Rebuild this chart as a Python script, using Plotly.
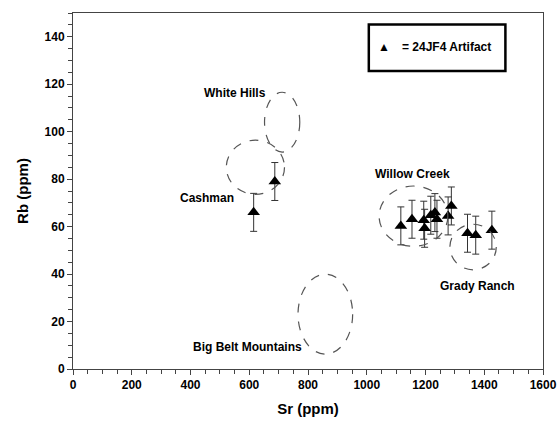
import plotly.graph_objects as go

# Artifact measurements (24JF4)
sr_ppm = [615, 687, 1116, 1154, 1194, 1197, 1218, 1232, 1239, 1277, 1288, 1343, 1371, 1426]
rb_ppm = [66, 79, 60.3, 63.1, 62.7, 59.3, 64.8, 65.9, 63.1, 64.5, 68.7, 57.2, 56.4, 58.5]
rb_err = [8, 8, 8, 8, 8, 8, 8, 8, 8, 8, 8, 8, 8, 8]

# Source regions (ellipses): name, Sr centre, Rb centre, Sr half-width, Rb half-height
region_names = ["White Hills", "Cashman", "Big Belt Mountains", "Willow Creek", "Grady Ranch"]
region_sr = [712, 621, 859, 1159, 1362]
region_rb = [104, 85, 23.1, 64.4, 51.4]
region_sr_half = [60, 99, 93, 117, 79]
region_rb_half = [12.6, 11.4, 16.8, 12.7, 9.6]

# label anchors for region names
label_sr = [550, 456, 593, 1156, 1378]
label_rb = [116.5, 72.2, 9.1, 82, 35]

x_ticks = [0, 200, 400, 600, 800, 1000, 1200, 1400, 1600]
y_ticks = [0, 20, 40, 60, 80, 100, 120, 140]

FONT = "Liberation Sans, Arial, Helvetica, sans-serif"

fig = go.Figure()
fig.add_trace(go.Scatter(
    x=sr_ppm, y=rb_ppm, mode="markers",
    marker=dict(symbol="triangle-up", size=11, color="black"),
    error_y=dict(type="data", array=rb_err, visible=True, color="#333333", thickness=1, width=3.5),
    showlegend=False, hoverinfo="x+y",
))

shapes = []
for cx, cy, rx, ry in zip(region_sr, region_rb, region_sr_half, region_rb_half):
    shapes.append(dict(type="circle", xref="x", yref="y",
                       x0=cx - rx, x1=cx + rx, y0=cy - ry, y1=cy + ry,
                       line=dict(color="#555555", width=1.2, dash="dash")))

# key box
shapes.append(dict(type="rect", xref="x", yref="y",
                   x0=1007, x1=1472, y0=125.6, y1=145.2,
                   line=dict(color="black", width=2.5), fillcolor="rgba(0,0,0,0)"))

annotations = []
for name, lx, ly in zip(region_names, label_sr, label_rb):
    annotations.append(dict(x=lx, y=ly, xref="x", yref="y", text=name, showarrow=False,
                            font=dict(family=FONT, size=12, color="black", weight="bold")))
annotations.append(dict(x=1058, y=135.8, xref="x", yref="y", xanchor="center",
                        text="▲", showarrow=False,
                        font=dict(family=FONT, size=12, color="black")))
annotations.append(dict(x=1112, y=135.8, xref="x", yref="y", xanchor="left",
                        text="= 24JF4 Artifact", showarrow=False,
                        font=dict(family=FONT, size=12, color="black", weight="bold")))

fig.update_layout(
    width=558, height=426,
    margin=dict(l=73, r=15, t=13, b=57),
    paper_bgcolor="white", plot_bgcolor="white",
    shapes=shapes, annotations=annotations,
    font=dict(family=FONT, size=12, color="black"),
    xaxis=dict(range=[0, 1600], tickvals=x_ticks, ticks="outside", ticklen=5, tickwidth=1,
               tickcolor="#444", showline=True, linecolor="#444", linewidth=1, mirror=True,
               showgrid=False, zeroline=False, automargin=False,
               minor=dict(dtick=50, ticks="outside", ticklen=4, tickcolor="#444", showgrid=False),
               tickfont=dict(family=FONT, size=12, weight="bold"),
               title=dict(text="Sr (ppm)", font=dict(family=FONT, size=15, weight="bold"), standoff=12)),
    yaxis=dict(range=[0, 150], tickvals=y_ticks, ticks="outside", ticklen=5, tickwidth=1,
               tickcolor="#444", showline=True, linecolor="#444", linewidth=1, mirror=True,
               showgrid=False, zeroline=False, automargin=False,
               minor=dict(dtick=5, ticks="outside", ticklen=4, tickcolor="#444", showgrid=False),
               tickfont=dict(family=FONT, size=12, weight="bold"),
               title=dict(text="Rb (ppm)", font=dict(family=FONT, size=15, weight="bold"), standoff=12)),
)

fig.write_html("out.html", config={"displayModeBar": False},
               post_script="document.body.style.margin='0px';document.body.style.overflow='hidden';")
